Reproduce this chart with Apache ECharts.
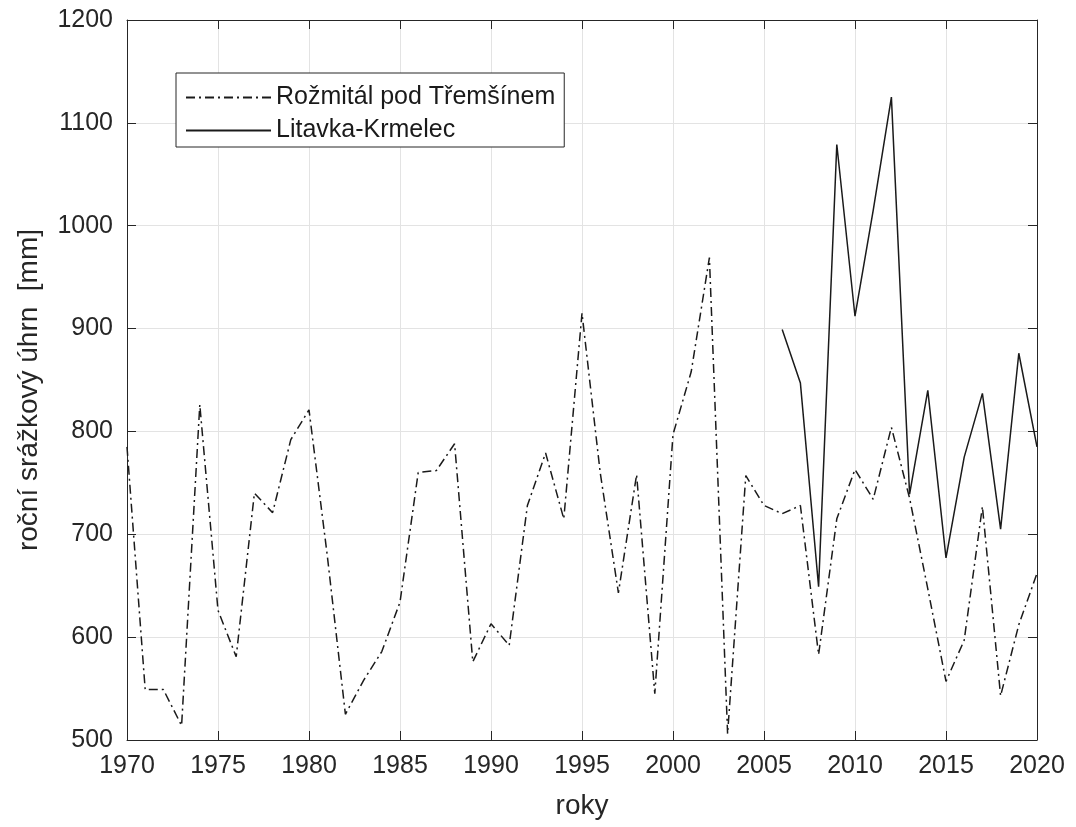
<!DOCTYPE html>
<html>
<head>
<meta charset="utf-8">
<script src="https://cdn.jsdelivr.net/npm/echarts@6/dist/echarts.min.js"></script>
<style>
  html, body { margin: 0; padding: 0; background: #fff; }
  #chart { width: 1076px; height: 827px; }
</style>
</head>
<body>
<div id="chart"></div>
<script>
// Annual precipitation totals [mm]
const yearsRozmital = [1970,1971,1972,1973,1974,1975,1976,1977,1978,1979,
  1980,1981,1982,1983,1984,1985,1986,1987,1988,1989,
  1990,1991,1992,1993,1994,1995,1996,1997,1998,1999,
  2000,2001,2002,2003,2004,2005,2006,2007,2008,2009,
  2010,2011,2012,2013,2014,2015,2016,2017,2018,2019,2020];
const valuesRozmital = [785,549,549,514,826,626,581,740,721,792,
  821,680,525,558,586,634,760,762,788,576,
  613,592,728,779,715,915,760,643,758,545,
  797,858,969,506,757,728,720,728,583,715,
  763,734,804,735,647,557,597,727,543,612,662];

const yearsLitavka = [2006,2007,2008,2009,2010,2011,2012,2013,2014,2015,2016,2017,2018,2019,2020];
const valuesLitavka = [899,847,649,1079,912,1015,1125,739,840,677,775,837,705,876,785];

const xTicks = { min: 1970, max: 2020, interval: 5 };
const yTicks = { min: 500, max: 1200, interval: 100 };

const nameRozmital = 'Rožmitál pod Třemšínem';
const nameLitavka = 'Litavka-Krmelec';
const xTitle = 'roky';
const yTitle = 'roční srážkový úhrn  [mm]';

const pairs = (xs, ys) => xs.map((x, i) => [x, ys[i]]);

const FONT = '"Liberation Sans", Arial, sans-serif';
const FRAME = '#262626';
const GRID = '#e3e3e3';
const plain = v => String(v);

const chart = echarts.init(document.getElementById('chart'), null, { renderer: 'canvas' });

const frameAxis = {
  axisLine: { show: true, lineStyle: { color: FRAME, width: 1 } },
  axisTick: { show: true, inside: true, length: 9, lineStyle: { color: FRAME, width: 1 } },
};

chart.setOption({
  animation: false,
  backgroundColor: '#fff',
  grid: { left: 127, right: 39, top: 20, bottom: 87, containLabel: false },
  legend: {
    orient: 'vertical',
    left: 176,
    top: 73,
    itemWidth: 85,
    itemHeight: 25,
    itemGap: 8,
    padding: [12, 9, 4, 9],
    borderColor: FRAME,
    borderWidth: 1,
    borderRadius: 0,
    backgroundColor: '#fff',
    itemStyle: { opacity: 0 },
    textStyle: { fontFamily: FONT, fontSize: 25, color: '#1a1a1a' },
    data: [nameRozmital, nameLitavka]
  },
  xAxis: [
    Object.assign({
      type: 'value', position: 'bottom',
      min: xTicks.min, max: xTicks.max, interval: xTicks.interval,
      name: xTitle, nameLocation: 'middle', nameGap: 52,
      nameTextStyle: { fontFamily: FONT, fontSize: 28, color: FRAME },
      axisLabel: { fontFamily: FONT, fontSize: 25, color: FRAME, margin: 14, formatter: plain },
      splitLine: { show: true, lineStyle: { color: GRID, width: 1 } }
    }, frameAxis),
    Object.assign({
      type: 'value', position: 'top',
      min: xTicks.min, max: xTicks.max, interval: xTicks.interval,
      axisLabel: { show: false }, splitLine: { show: false }
    }, frameAxis)
  ],
  yAxis: [
    Object.assign({
      type: 'value', position: 'left',
      min: yTicks.min, max: yTicks.max, interval: yTicks.interval,
      name: yTitle, nameLocation: 'middle', nameGap: 84, nameRotate: 90,
      nameTextStyle: { fontFamily: FONT, fontSize: 28, color: FRAME, padding: [0, 20, 0, 0] },
      axisLabel: { fontFamily: FONT, fontSize: 25, color: FRAME, margin: 14, formatter: plain },
      splitLine: { show: true, lineStyle: { color: GRID, width: 1 } }
    }, frameAxis),
    Object.assign({
      type: 'value', position: 'right',
      min: yTicks.min, max: yTicks.max, interval: yTicks.interval,
      axisLabel: { show: false }, splitLine: { show: false }
    }, frameAxis)
  ],
  series: [
    {
      name: nameRozmital,
      type: 'line',
      xAxisIndex: 0, yAxisIndex: 0,
      data: pairs(yearsRozmital, valuesRozmital),
      symbol: 'none',
      lineStyle: { color: '#1a1a1a', width: 1.5, type: [9, 4, 2, 4] },
      itemStyle: { color: '#1a1a1a' },
      z: 3
    },
    {
      name: nameLitavka,
      type: 'line',
      xAxisIndex: 0, yAxisIndex: 0,
      data: pairs(yearsLitavka, valuesLitavka),
      symbol: 'none',
      lineStyle: { color: '#1a1a1a', width: 1.5, type: 'solid' },
      itemStyle: { color: '#1a1a1a' },
      z: 3
    }
  ]
});
</script>
</body>
</html>
